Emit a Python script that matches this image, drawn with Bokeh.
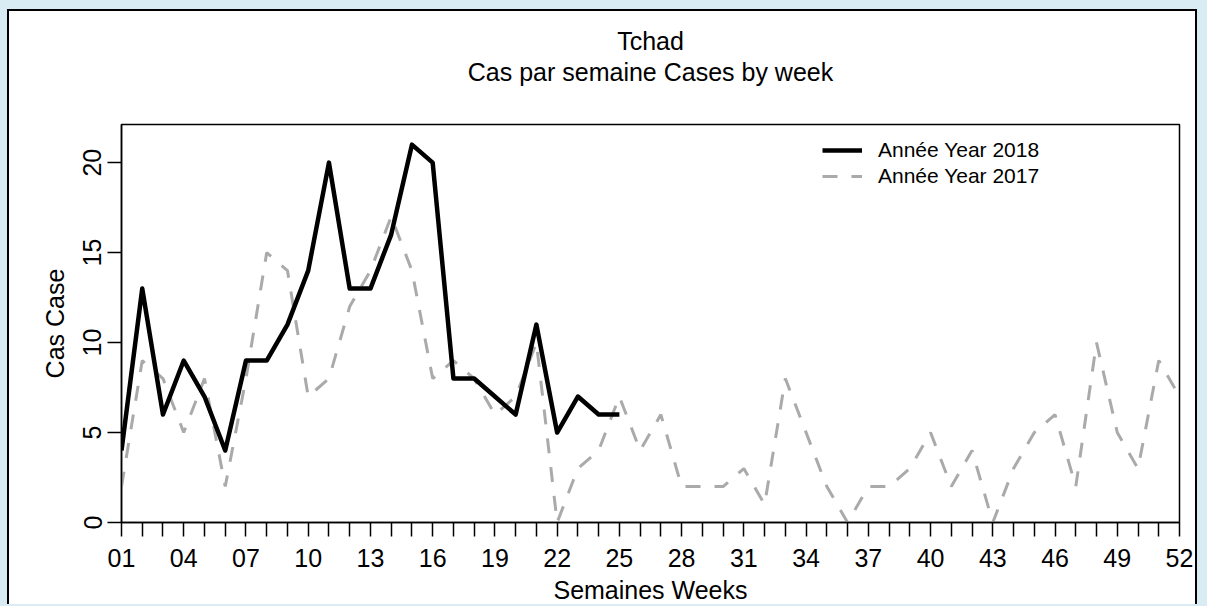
from bokeh.plotting import figure
from bokeh.models import Range1d, FixedTicker, Title, Legend, LegendItem
from bokeh.embed import file_html
from bokeh.resources import INLINE

# ---- data ----
weeks_2018 = list(range(1, 26))
cases_2018 = [4, 13, 6, 9, 7, 4, 9, 9, 11, 14, 20, 13, 13, 16, 21, 20, 8, 8, 7, 6, 11, 5, 7, 6, 6]
weeks_2017 = list(range(1, 53))
cases_2017 = [2, 9, 8, 5, 8, 2, 8, 15, 14, 7,
              8, 12, 14, 17, 14, 8, 9, 8, 6, 7,
              10, 0, 3, 4, 7, 4, 6, 2, 2, 2,
              3, 1, 8, 5, 2, 0, 2, 2, 3, 5,
              2, 4, 0, 3, 5, 6, 2, 10, 5, 3,
              9, 7]
x_label_weeks = list(range(1, 53, 3))
x_tick_labels = ["%02d" % w for w in x_label_weeks]
y_ticks = [0, 5, 10, 15, 20]
title_main = "Tchad"
title_sub = "Cas par semaine Cases by week"
x_title = "Semaines Weeks"
y_title = "Cas Case"
legend_labels = ["Année Year 2018", "Année Year 2017"]

FONT = "Liberation Sans"
FS = "25px"

p = figure(width=1190, height=595, output_backend="svg", toolbar_location=None,
           x_range=Range1d(1, 52), y_range=Range1d(0, 22.12),
           min_border_left=112, min_border_top=113, min_border_right=20, min_border_bottom=83)
p.styles = {
    "margin-left": "7px",
    "margin-top": "9px",
    "border-top": "2px solid #000",
    "border-left": "2px solid #000",
    "border-right": "2px solid #000",
    "box-shadow": "0 0 0 24px #d9ecf3",
}
p.background_fill_color = "white"
p.border_fill_color = "white"
p.outline_line_color = "black"
p.outline_line_width = 1.5
p.grid.visible = False

# x axis
xa = p.xaxis[0]
xa.ticker = FixedTicker(ticks=weeks_2017, minor_ticks=[])
overrides = {w: "" for w in weeks_2017}
for w, lab in zip(x_label_weeks, x_tick_labels):
    overrides[w] = lab
xa.major_label_overrides = overrides
xa.axis_label = x_title

# y axis
ya = p.yaxis[0]
ya.ticker = FixedTicker(ticks=y_ticks, minor_ticks=[])
ya.major_label_orientation = "vertical"
ya.axis_label = y_title

for ax in (xa, ya):
    ax.axis_line_color = "black"
    ax.axis_line_width = 1.5
    ax.major_tick_line_color = "black"
    ax.major_tick_line_width = 1.5
    ax.major_tick_out = 14
    ax.major_tick_in = 0
    ax.minor_tick_line_color = None
    ax.major_label_text_font = FONT
    ax.major_label_text_font_size = FS
    ax.major_label_text_color = "black"
    ax.axis_label_text_font = FONT
    ax.axis_label_text_font_size = FS
    ax.axis_label_text_font_style = "normal"
    ax.axis_label_text_color = "black"

xa.major_label_standoff = 12
xa.axis_label_standoff = 6
ya.major_label_standoff = 6
ya.axis_label_standoff = 12

r17 = p.line(weeks_2017, cases_2017, line_color="#aaaaaa", line_width=3, line_dash="15 14")
r18 = p.line(weeks_2018, cases_2018, line_color="black", line_width=4.5, line_join="round")

legend = Legend(items=[LegendItem(label=legend_labels[0], renderers=[r18]),
                       LegendItem(label=legend_labels[1], renderers=[r17])],
                location=(701, 333), orientation="vertical",
                glyph_width=40, glyph_height=26, label_height=26, label_standoff=16,
                padding=0, margin=0, spacing=0,
                border_line_alpha=0, background_fill_alpha=0,
                label_text_font=FONT, label_text_font_size="21px", label_text_color="black")
p.add_layout(legend)

# spacer between the frame and the subtitle, then subtitle, then main title
p.add_layout(Title(text=" ", align="center", text_font=FONT, text_font_size=FS,
                   text_font_style="normal", standoff=9), "above")
p.add_layout(Title(text=title_sub, align="center", text_font=FONT, text_font_size=FS,
                   text_font_style="normal", text_color="black", standoff=0), "above")
p.add_layout(Title(text=title_main, align="center", text_font=FONT, text_font_size=FS,
                   text_font_style="normal", text_color="black", standoff=1), "above")

open("out.html", "w").write(file_html(p, INLINE))
